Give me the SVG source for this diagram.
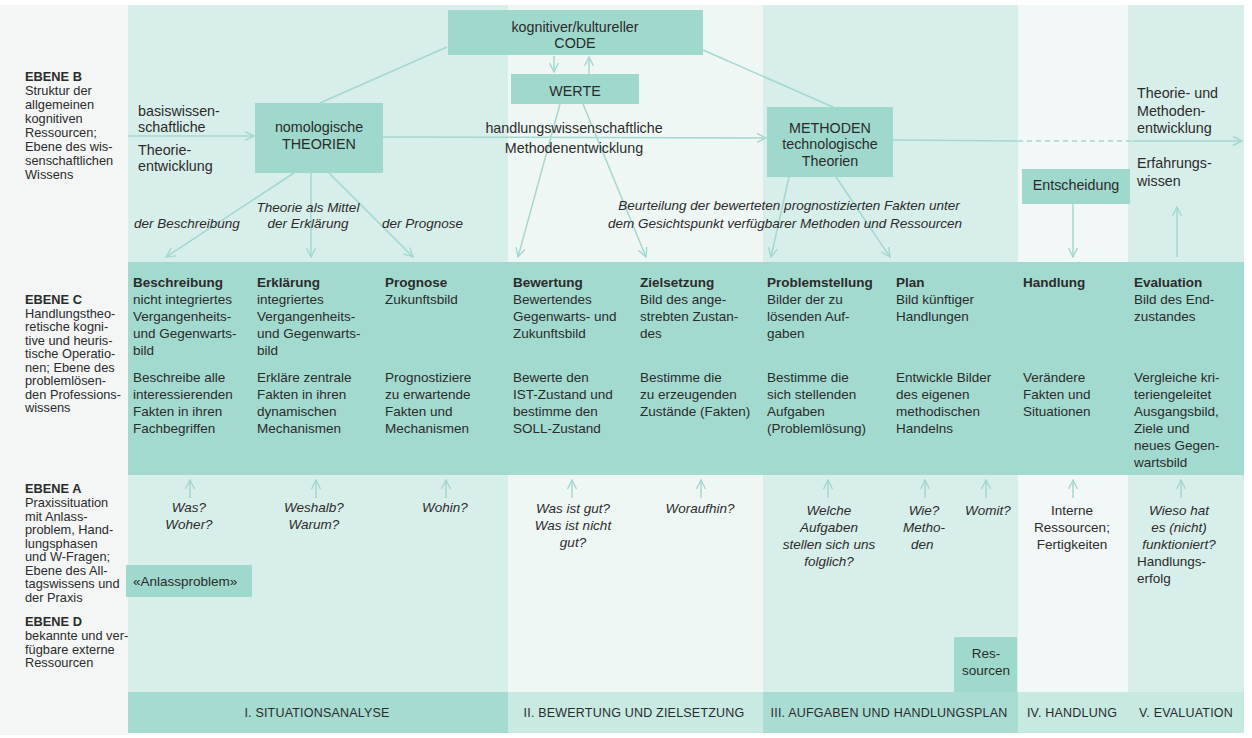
<svg xmlns="http://www.w3.org/2000/svg" width="1252" height="738" viewBox="0 0 1252 738">
<defs>
<style>
text{font-family:"Liberation Sans",Arial,sans-serif;fill:#2b2b2b}
.lb{font-size:12.8px}
.lbb{font-size:12.8px;font-weight:bold}
.t{font-size:13.5px}
.h{font-size:13.5px;font-weight:bold}
.it{font-size:13.5px;font-style:italic}
.big{font-size:14.3px}
.bar{font-size:12.5px;letter-spacing:0.2px}
.c{text-anchor:middle}
.box{fill:#9fd8cc}
.ln{stroke:#a3d8cf;stroke-width:1.5;fill:none}
.la{stroke:#a3d8cf;stroke-width:1.5;fill:none;marker-end:url(#ah)}
</style>
<marker id="ah" viewBox="0 0 12 12" refX="11" refY="6" markerWidth="12" markerHeight="12" markerUnits="userSpaceOnUse" orient="auto">
<path d="M2,1.5 L11,6 L2,10.5" fill="none" stroke="#a3d8cf" stroke-width="1.4"/>
</marker>
</defs>

<!-- backgrounds -->
<g id="background">
<rect x="0" y="0" width="1252" height="738" fill="#ffffff"/>
<rect x="0" y="5" width="128" height="730" fill="#f3f6f5"/>
<rect x="128" y="5" width="380" height="687" fill="#d8eeea"/>
<rect x="508" y="5" width="255" height="687" fill="#eff7f5"/>
<rect x="763" y="5" width="255" height="687" fill="#d8eeea"/>
<rect x="1018" y="5" width="110" height="687" fill="#f2f8f7"/>
<rect x="1128" y="5" width="116" height="687" fill="#d8eeea"/>
<rect x="128" y="262" width="1116" height="213" fill="#a2dacf"/>
<rect x="128" y="692" width="380" height="41" fill="#a5dbd1"/>
<rect x="508" y="692" width="255" height="41" fill="#c8eae3"/>
<rect x="763" y="692" width="255" height="41" fill="#a9ddd4"/>
<rect x="1018" y="692" width="226" height="41" fill="#c6e9e2"/>
</g>

<!-- level labels -->
<g id="ebene-b">
<text class="lbb" x="25" y="81">EBENE B</text>
<text class="lb" x="25" y="95">Struktur der</text>
<text class="lb" x="25" y="109">allgemeinen</text>
<text class="lb" x="25" y="123">kognitiven</text>
<text class="lb" x="25" y="137">Ressourcen;</text>
<text class="lb" x="25" y="151">Ebene des wis-</text>
<text class="lb" x="25" y="165">senschaftlichen</text>
<text class="lb" x="25" y="179">Wissens</text>
</g>
<g id="ebene-c">
<text class="lbb" x="25" y="304">EBENE C</text>
<text class="lb" x="25" y="317.5">Handlungstheo-</text>
<text class="lb" x="25" y="331">retische kogni-</text>
<text class="lb" x="25" y="344.5">tive und heuris-</text>
<text class="lb" x="25" y="358">tische Operatio-</text>
<text class="lb" x="25" y="371.5">nen; Ebene des</text>
<text class="lb" x="25" y="385">problemlösen-</text>
<text class="lb" x="25" y="398.5">den Professions-</text>
<text class="lb" x="25" y="412">wissens</text>
</g>
<g id="ebene-a">
<text class="lbb" x="25" y="493">EBENE A</text>
<text class="lb" x="25" y="507">Praxissituation</text>
<text class="lb" x="25" y="520.5">mit Anlass-</text>
<text class="lb" x="25" y="534">problem, Hand-</text>
<text class="lb" x="25" y="547.5">lungsphasen</text>
<text class="lb" x="25" y="561">und W-Fragen;</text>
<text class="lb" x="25" y="574.5">Ebene des All-</text>
<text class="lb" x="25" y="588">tagswissens und</text>
<text class="lb" x="25" y="601.5">der Praxis</text>
</g>
<g id="ebene-d">
<text class="lbb" x="25" y="626">EBENE D</text>
<text class="lb" x="25" y="640">bekannte und ver-</text>
<text class="lb" x="25" y="653.5">fügbare externe</text>
<text class="lb" x="25" y="667">Ressourcen</text>
</g>

<!-- connectors -->
<g id="connectors">
<line class="ln" x1="447" y1="47" x2="320" y2="103"/>
<line class="ln" x1="703" y1="50" x2="833" y2="107"/>
<line class="la" x1="554" y1="56" x2="554" y2="72"/>
<line class="la" x1="589" y1="74" x2="589" y2="57"/>
<line class="la" x1="128" y1="136" x2="254" y2="136"/>
<line class="la" x1="383" y1="137" x2="766" y2="138"/>
<line class="ln" x1="893" y1="140" x2="1018" y2="141"/>
<line class="ln" x1="1018" y1="141" x2="1132" y2="141" stroke-dasharray="5 4"/>
<line class="la" x1="1132" y1="141" x2="1242" y2="141"/>
<line class="la" x1="294" y1="173" x2="166" y2="257"/>
<line class="la" x1="311" y1="173" x2="311" y2="257"/>
<line class="la" x1="329" y1="173" x2="413" y2="257"/>
<line class="la" x1="560" y1="104" x2="518" y2="257"/>
<line class="la" x1="583" y1="104" x2="646" y2="257"/>
<line class="la" x1="789" y1="177" x2="771" y2="257"/>
<line class="la" x1="836" y1="177" x2="890" y2="257"/>
<line class="la" x1="1073" y1="204" x2="1073" y2="257"/>
<line class="la" x1="1177" y1="257" x2="1177" y2="207"/>
<line class="la" x1="190" y1="498" x2="190" y2="480"/>
<line class="la" x1="316" y1="498" x2="316" y2="480"/>
<line class="la" x1="446" y1="498" x2="446" y2="480"/>
<line class="la" x1="572" y1="498" x2="572" y2="480"/>
<line class="la" x1="701" y1="498" x2="701" y2="480"/>
<line class="la" x1="828" y1="498" x2="828" y2="480"/>
<line class="la" x1="925" y1="498" x2="925" y2="480"/>
<line class="la" x1="986" y1="498" x2="986" y2="480"/>
<line class="la" x1="1073" y1="498" x2="1073" y2="480"/>
<line class="la" x1="1181" y1="498" x2="1181" y2="480"/>
</g>

<!-- level B nodes -->
<g id="code">
<rect class="box" x="448" y="10" width="255" height="45"/>
<text class="big c" x="575" y="32">kognitiver/kultureller</text>
<text class="big c" x="575" y="48">CODE</text>
</g>
<g id="werte">
<rect class="box" x="511" y="74" width="128" height="30"/>
<text class="big c" x="575" y="96">WERTE</text>
</g>
<g id="theorien">
<rect class="box" x="255" y="103" width="128" height="70"/>
<text class="big c" x="319" y="132">nomologische</text>
<text class="big c" x="319" y="149">THEORIEN</text>
</g>
<g id="methoden">
<rect class="box" x="767" y="107" width="126" height="70"/>
<text class="big c" x="830" y="133">METHODEN</text>
<text class="big c" x="830" y="149">technologische</text>
<text class="big c" x="830" y="166">Theorien</text>
</g>
<g id="entscheidung">
<rect class="box" x="1022" y="169" width="108" height="35"/>
<text class="big c" x="1076" y="190">Entscheidung</text>
</g>
<g id="b-texts">
<text class="big" x="138" y="116">basiswissen-</text>
<text class="big" x="138" y="132">schaftliche</text>
<text class="big" x="138" y="155">Theorie-</text>
<text class="big" x="138" y="171">entwicklung</text>
<text class="big c" x="574" y="133">handlungswissenschaftliche</text>
<text class="big c" x="574" y="153">Methodenentwicklung</text>
<text class="big" x="1137" y="98">Theorie- und</text>
<text class="big" x="1137" y="116">Methoden-</text>
<text class="big" x="1137" y="133">entwicklung</text>
<text class="big" x="1137" y="168">Erfahrungs-</text>
<text class="big" x="1137" y="186">wissen</text>
<text class="it" x="134" y="228">der Beschreibung</text>
<text class="it c" x="308" y="212">Theorie als Mittel</text>
<text class="it c" x="308" y="228">der Erklärung</text>
<text class="it" x="382" y="228">der Prognose</text>
<text class="it c" x="789" y="210">Beurteilung der bewerteten prognostizierten Fakten unter</text>
<text class="it c" x="785" y="228">dem Gesichtspunkt verfügbarer Methoden und Ressourcen</text>
</g>

<!-- level C columns -->
<g id="beschreibung">
<text class="h" x="133" y="287">Beschreibung</text>
<text class="t" x="133" y="304">nicht integriertes</text>
<text class="t" x="133" y="321">Vergangenheits-</text>
<text class="t" x="133" y="338">und Gegenwarts-</text>
<text class="t" x="133" y="355">bild</text>
<text class="t" x="133" y="382">Beschreibe alle</text>
<text class="t" x="133" y="399">interessierenden</text>
<text class="t" x="133" y="416">Fakten in ihren</text>
<text class="t" x="133" y="433">Fachbegriffen</text>
</g>
<g id="erklaerung">
<text class="h" x="257" y="287">Erklärung</text>
<text class="t" x="257" y="304">integriertes</text>
<text class="t" x="257" y="321">Vergangenheits-</text>
<text class="t" x="257" y="338">und Gegenwarts-</text>
<text class="t" x="257" y="355">bild</text>
<text class="t" x="257" y="382">Erkläre zentrale</text>
<text class="t" x="257" y="399">Fakten in ihren</text>
<text class="t" x="257" y="416">dynamischen</text>
<text class="t" x="257" y="433">Mechanismen</text>
</g>
<g id="prognose">
<text class="h" x="385" y="287">Prognose</text>
<text class="t" x="385" y="304">Zukunftsbild</text>
<text class="t" x="385" y="382">Prognostiziere</text>
<text class="t" x="385" y="399">zu erwartende</text>
<text class="t" x="385" y="416">Fakten und</text>
<text class="t" x="385" y="433">Mechanismen</text>
</g>
<g id="bewertung">
<text class="h" x="513" y="287">Bewertung</text>
<text class="t" x="513" y="304">Bewertendes</text>
<text class="t" x="513" y="321">Gegenwarts- und</text>
<text class="t" x="513" y="338">Zukunftsbild</text>
<text class="t" x="513" y="382">Bewerte den</text>
<text class="t" x="513" y="399">IST-Zustand und</text>
<text class="t" x="513" y="416">bestimme den</text>
<text class="t" x="513" y="433">SOLL-Zustand</text>
</g>
<g id="zielsetzung">
<text class="h" x="640" y="287">Zielsetzung</text>
<text class="t" x="640" y="304">Bild des ange-</text>
<text class="t" x="640" y="321">strebten Zustan-</text>
<text class="t" x="640" y="338">des</text>
<text class="t" x="640" y="382">Bestimme die</text>
<text class="t" x="640" y="399">zu erzeugenden</text>
<text class="t" x="640" y="416">Zustände (Fakten)</text>
</g>
<g id="problemstellung">
<text class="h" x="767" y="287">Problemstellung</text>
<text class="t" x="767" y="304">Bilder der zu</text>
<text class="t" x="767" y="321">lösenden Auf-</text>
<text class="t" x="767" y="338">gaben</text>
<text class="t" x="767" y="382">Bestimme die</text>
<text class="t" x="767" y="399">sich stellenden</text>
<text class="t" x="767" y="416">Aufgaben</text>
<text class="t" x="767" y="433">(Problemlösung)</text>
</g>
<g id="plan">
<text class="h" x="896" y="287">Plan</text>
<text class="t" x="896" y="304">Bild künftiger</text>
<text class="t" x="896" y="321">Handlungen</text>
<text class="t" x="896" y="382">Entwickle Bilder</text>
<text class="t" x="896" y="399">des eigenen</text>
<text class="t" x="896" y="416">methodischen</text>
<text class="t" x="896" y="433">Handelns</text>
</g>
<g id="handlung">
<text class="h" x="1023" y="287">Handlung</text>
<text class="t" x="1023" y="382">Verändere</text>
<text class="t" x="1023" y="399">Fakten und</text>
<text class="t" x="1023" y="416">Situationen</text>
</g>
<g id="evaluation">
<text class="h" x="1134" y="287">Evaluation</text>
<text class="t" x="1134" y="304">Bild des End-</text>
<text class="t" x="1134" y="321">zustandes</text>
<text class="t" x="1134" y="382">Vergleiche kri-</text>
<text class="t" x="1134" y="399">teriengeleitet</text>
<text class="t" x="1134" y="416">Ausgangsbild,</text>
<text class="t" x="1134" y="433">Ziele und</text>
<text class="t" x="1134" y="450">neues Gegen-</text>
<text class="t" x="1134" y="467">wartsbild</text>
</g>

<!-- level A questions -->
<g id="questions">
<text class="it c" x="189" y="512">Was?</text>
<text class="it c" x="189" y="529">Woher?</text>
<text class="it c" x="314" y="512">Weshalb?</text>
<text class="it c" x="314" y="529">Warum?</text>
<text class="it c" x="445" y="512">Wohin?</text>
<text class="it c" x="573" y="513">Was ist gut?</text>
<text class="it c" x="573" y="530">Was ist nicht</text>
<text class="it c" x="573" y="547">gut?</text>
<text class="it c" x="700" y="513">Woraufhin?</text>
<text class="it c" x="829" y="515">Welche</text>
<text class="it c" x="829" y="532">Aufgaben</text>
<text class="it c" x="829" y="549">stellen sich uns</text>
<text class="it c" x="829" y="566">folglich?</text>
<text class="it c" x="924" y="515">Wie?</text>
<text class="it c" x="924" y="532">Metho-</text>
<text class="it" x="911" y="549">den</text>
<text class="it c" x="988" y="515">Womit?</text>
<text class="t c" x="1072" y="515">Interne</text>
<text class="t c" x="1072" y="532">Ressourcen;</text>
<text class="t c" x="1072" y="549">Fertigkeiten</text>
<text class="it c" x="1179" y="515">Wieso hat</text>
<text class="it c" x="1179" y="532">es (nicht)</text>
<text class="it c" x="1179" y="549">funktioniert?</text>
<text class="t" x="1137" y="566">Handlungs-</text>
<text class="t" x="1137" y="583">erfolg</text>
</g>
<g id="anlassproblem">
<rect class="box" x="126" y="565" width="126" height="32"/>
<text class="t" x="133" y="586">«Anlassproblem»</text>
</g>
<g id="ressourcen">
<rect class="box" x="954" y="637" width="63" height="55"/>
<text class="t c" x="986" y="658">Res-</text>
<text class="t c" x="986" y="675">sourcen</text>
</g>

<!-- phases -->
<g id="phases">
<text class="bar c" x="317" y="717">I. SITUATIONSANALYSE</text>
<text class="bar c" x="634" y="717">II. BEWERTUNG UND ZIELSETZUNG</text>
<text class="bar c" x="889" y="717">III. AUFGABEN UND HANDLUNGSPLAN</text>
<text class="bar c" x="1072" y="717">IV. HANDLUNG</text>
<text class="bar c" x="1186" y="717">V. EVALUATION</text>
</g>
</svg>
